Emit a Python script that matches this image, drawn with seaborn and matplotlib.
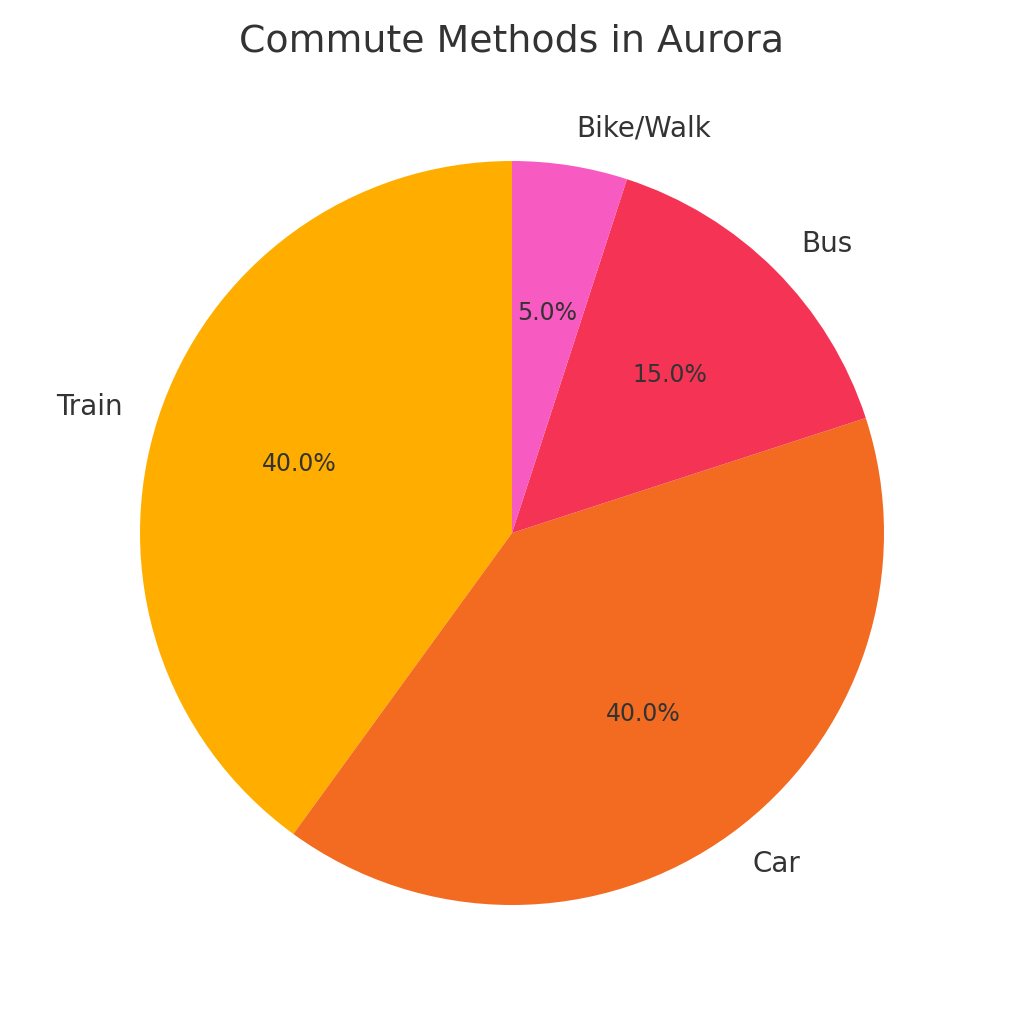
import matplotlib
matplotlib.use("Agg")
import matplotlib.pyplot as plt
import seaborn as sns

sns.set_theme(style="white")
plt.rcParams["font.family"] = ["DejaVu Sans"]

methods = ["Train", "Car", "Bus", "Bike/Walk"]
shares = [40, 40, 15, 5]
colors = ["#FFAE00", "#F26B21", "#F53455", "#F75AC0"]

fig = plt.figure(figsize=(10.24, 10.24), dpi=100)
# pie centre at (512, 533) px, radius ~372 px
ax = fig.add_axes([140 / 1024, 119 / 1024, 744 / 1024, 744 / 1024])
wedges, texts, autotexts = ax.pie(
    shares,
    labels=methods,
    colors=colors,
    autopct="%1.1f%%",
    startangle=90,
    counterclock=True,
    wedgeprops={"linewidth": 0},
    textprops={"fontsize": 20, "color": "#333333"},
)
for t in autotexts:
    t.set_fontsize(17)
ax.set_xlim(-1, 1)
ax.set_ylim(-1, 1)
ax.set_aspect("equal")
fig.text(0.5, 1 - 42 / 1024, "Commute Methods in Aurora", fontsize=27.3,
         color="#333333", ha="center", va="center")
plt.savefig("out.png", dpi=100)
plt.close()
